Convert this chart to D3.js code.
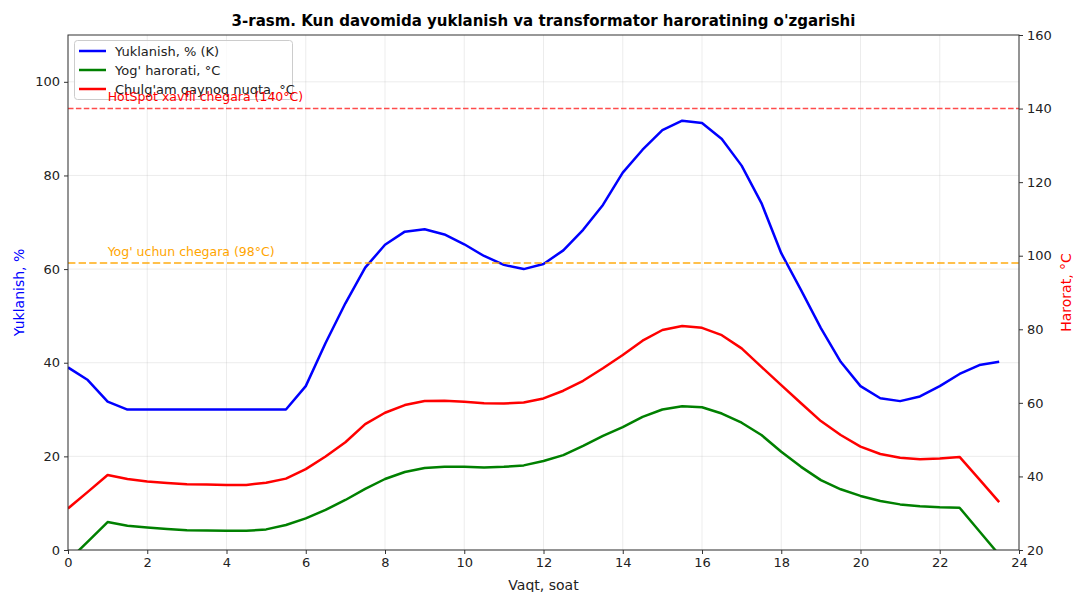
<!DOCTYPE html>
<html>
<head>
<meta charset="utf-8">
<script src="https://cdn.jsdelivr.net/npm/d3@7"></script>
<style>
  html, body { margin: 0; padding: 0; background: #fff; }
  text { font-family: "DejaVu Sans", sans-serif; }
</style>
</head>
<body>
<svg id="chart" width="1073" height="592"></svg>
<script>
// ---- data ----
const hours = [0,0.5,1,1.5,2,2.5,3,3.5,4,4.5,5,5.5,6,6.5,7,7.5,8,8.5,9,9.5,10,10.5,11,11.5,12,12.5,13,13.5,14,14.5,15,15.5,16,16.5,17,17.5,18,18.5,19,19.5,20,20.5,21,21.5,22,22.5,23,23.5];
const loadPct = [39.0,36.3,31.7,30,30,30,30,30,30,30,30,30,35.0,44.2,52.7,60.3,65.2,68.0,68.5,67.4,65.3,62.8,60.9,60.0,61.1,64.0,68.4,73.7,80.6,85.5,89.7,91.7,91.2,87.8,82.1,74.1,63.4,55.5,47.4,40.2,35.0,32.4,31.8,32.8,35.0,37.6,39.5,40.2];
const oilTemp = [17.0,22.3,27.6,26.6,26.1,25.7,25.4,25.3,25.2,25.2,25.6,26.8,28.6,30.9,33.6,36.6,39.3,41.2,42.3,42.6,42.6,42.4,42.6,43.0,44.2,45.8,48.3,51.0,53.4,56.2,58.2,59.1,58.8,57.1,54.6,51.25,46.7,42.6,39.0,36.5,34.7,33.3,32.4,31.9,31.6,31.5,25.1,18.7];
const hotSpot = [31.3,35.8,40.4,39.3,38.6,38.2,37.9,37.8,37.7,37.7,38.3,39.4,42.0,45.4,49.3,54.2,57.3,59.4,60.5,60.6,60.3,59.9,59.8,60.1,61.2,63.3,66.0,69.4,73.0,76.9,79.8,80.9,80.4,78.4,74.8,69.8,64.8,59.9,55.05,51.25,48.1,46.1,45.1,44.7,44.9,45.3,39.2,33.0];
const xTicks = [0,2,4,6,8,10,12,14,16,18,20,22,24];
const yLeftTicks = [0,20,40,60,80,100];
const yRightTicks = [20,40,60,80,100,120,140,160];
const oilLimit = 98;
const hotLimit = 140;
const seriesNames = ["Yuklanish, % (K)", "Yog' harorati, °C", "Chulg'am qaynoq nuqta, °C"];
const seriesColors = ["#0000ff", "#008000", "#ff0000"];
const title = "3-rasm. Kun davomida yuklanish va transformator haroratining o'zgarishi";

// ---- layout ----
const svg = d3.select("#chart");
const L = 68, R = 1019, T = 35, B = 550;
const x = d3.scaleLinear().domain([0, 24]).range([L, R]);
const yL = d3.scaleLinear().domain([0, 110]).range([B, T]);
const yR = d3.scaleLinear().domain([20, 160]).range([B, T]);

svg.append("defs").append("clipPath").attr("id", "clip")
  .append("rect").attr("x", L).attr("y", T).attr("width", R - L).attr("height", B - T);

// grid
const grid = svg.append("g");
grid.selectAll(".gx").data(xTicks).enter().append("line")
  .attr("x1", d => x(d)).attr("x2", d => x(d)).attr("y1", T).attr("y2", B)
  .attr("stroke", "#b0b0b0").attr("stroke-opacity", 0.3).attr("stroke-width", 0.8);
grid.selectAll(".gy").data(yLeftTicks).enter().append("line")
  .attr("x1", L).attr("x2", R).attr("y1", d => yL(d)).attr("y2", d => yL(d))
  .attr("stroke", "#b0b0b0").attr("stroke-opacity", 0.3).attr("stroke-width", 0.8);

// lines
const plot = svg.append("g").attr("clip-path", "url(#clip)");
const lineL = d3.line().x((d, i) => x(hours[i])).y(d => yL(d));
const lineR = d3.line().x((d, i) => x(hours[i])).y(d => yR(d));
plot.append("path").datum(loadPct).attr("d", lineL).attr("fill", "none")
  .attr("stroke", seriesColors[0]).attr("stroke-width", 2.5).attr("stroke-linejoin", "round");

// threshold lines (right axis)
plot.append("line").attr("x1", L).attr("x2", R).attr("y1", yR(hotLimit)).attr("y2", yR(hotLimit))
  .attr("stroke", "#ff0000").attr("stroke-opacity", 0.7).attr("stroke-width", 1.5).attr("stroke-dasharray", "5.5,2.4");
plot.append("line").attr("x1", L).attr("x2", R).attr("y1", yR(oilLimit)).attr("y2", yR(oilLimit))
  .attr("stroke", "#ffa500").attr("stroke-opacity", 0.7).attr("stroke-width", 2).attr("stroke-dasharray", "7.4,3.2");

plot.append("path").datum(oilTemp).attr("d", lineR).attr("fill", "none")
  .attr("stroke", seriesColors[1]).attr("stroke-width", 2.5).attr("stroke-linejoin", "round");
plot.append("path").datum(hotSpot).attr("d", lineR).attr("fill", "none")
  .attr("stroke", seriesColors[2]).attr("stroke-width", 2.5).attr("stroke-linejoin", "round");

// axes
const fmt = d3.format("d");
const axB = svg.append("g").attr("transform", `translate(0,${B})`)
  .call(d3.axisBottom(x).tickValues(xTicks).tickFormat(fmt).tickSize(4).tickPadding(4));
const axL = svg.append("g").attr("transform", `translate(${L},0)`)
  .call(d3.axisLeft(yL).tickValues(yLeftTicks).tickFormat(fmt).tickSize(4).tickPadding(4));
const axR = svg.append("g").attr("transform", `translate(${R},0)`)
  .call(d3.axisRight(yR).tickValues(yRightTicks).tickFormat(fmt).tickSize(4).tickPadding(4));
[axB, axL, axR].forEach(a => {
  a.select(".domain").remove();
  a.selectAll("line").attr("stroke", "#333").attr("stroke-width", 1);
  a.selectAll("text").attr("font-size", 13).attr("fill", "#222").attr("font-family", "DejaVu Sans, sans-serif");
});
// spines
svg.append("rect").attr("x", L).attr("y", T).attr("width", R - L).attr("height", B - T)
  .attr("fill", "none").attr("stroke", "#333").attr("stroke-width", 1);

// legend
const lg = svg.append("g");
lg.append("rect").attr("x", 74.5).attr("y", 40.5).attr("width", 218).attr("height", 59).attr("rx", 3)
  .attr("fill", "#fff").attr("fill-opacity", 0.8).attr("stroke", "#ccc").attr("stroke-width", 1);
seriesNames.forEach((n, i) => {
  const yy = 51 + i * 19;
  lg.append("line").attr("x1", 79).attr("x2", 106).attr("y1", yy).attr("y2", yy)
    .attr("stroke", seriesColors[i]).attr("stroke-width", 2.5);
  lg.append("text").attr("x", 115).attr("y", yy + 4.5).attr("font-size", 13).attr("fill", "#222").text(n);
});

// threshold labels
svg.append("text").attr("x", x(1)).attr("y", yR(hotLimit + 2)).attr("font-size", 12.5)
  .attr("fill", "#ff0000").text("HotSpot xavfli chegara (140°C)");
svg.append("text").attr("x", x(1)).attr("y", yR(oilLimit + 2)).attr("font-size", 12.5)
  .attr("fill", "#ffa500").text("Yog' uchun chegara (98°C)");

// title & labels
svg.append("text").attr("x", (L + R) / 2).attr("y", 26).attr("text-anchor", "middle")
  .attr("font-size", 15).attr("font-weight", "bold").attr("fill", "#000").text(title);
svg.append("text").attr("x", (L + R) / 2).attr("y", 590).attr("text-anchor", "middle")
  .attr("font-size", 14).attr("fill", "#222").text("Vaqt, soat");
svg.append("text").attr("transform", `translate(24,${(T + B) / 2}) rotate(-90)`).attr("text-anchor", "middle")
  .attr("font-size", 14).attr("fill", "#0000ff").text("Yuklanish, %");
svg.append("text").attr("transform", `translate(1071,${(T + B) / 2}) rotate(-90)`).attr("text-anchor", "middle")
  .attr("font-size", 14).attr("fill", "#ff0000").text("Harorat, °C");
</script>
</body>
</html>
